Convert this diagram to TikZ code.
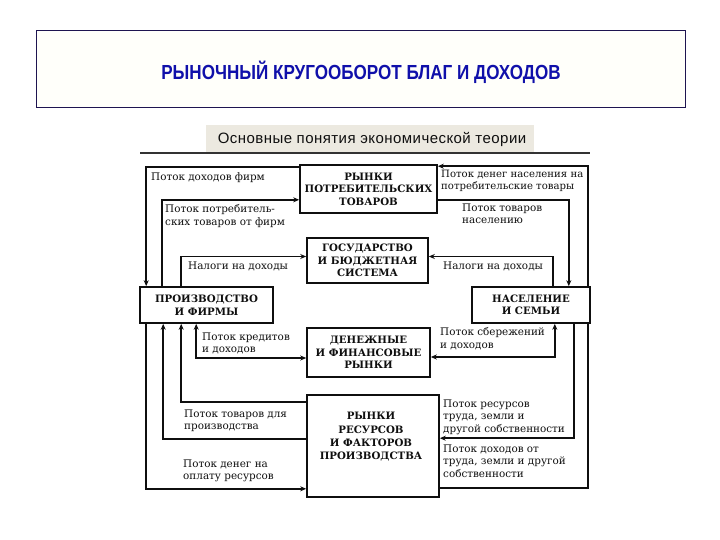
\documentclass[tikz,border=0pt]{standalone}
\usepackage{fontspec}
\usepackage{graphicx}
\setmainfont{DejaVu Serif}
\newfontfamily\titlefont{Liberation Sans}
\newfontfamily\subfont[LetterSpace=3]{Liberation Sans}
\usetikzlibrary{arrows.meta,calc}
\definecolor{titleblue}{RGB}{16,16,170}
\definecolor{frameblue}{RGB}{30,20,80}
\definecolor{subgray}{RGB}{236,233,224}
\definecolor{ink}{RGB}{15,15,15}
\begin{document}
\begin{tikzpicture}[x=1pt,y=-1pt,
  boxn/.style={draw=ink, line width=1.6pt, inner sep=0pt, align=center,
    font=\fontsize{10.2}{12.5}\selectfont\bfseries, text=ink},
  boxtxt/.style={inner sep=0pt, align=center, font=\fontsize{10.2}{13.3}\selectfont\bfseries, text=ink},
  lbl/.style={anchor=north west, align=left, inner sep=0pt,
    font=\fontsize{10.4}{12.5}\selectfont, text=ink},
  flow/.style={draw=ink, line width=1.6pt},
  arr/.style={-{Stealth[length=6pt,width=5pt]}},
  darr/.style={{Stealth[length=6pt,width=5pt]}-{Stealth[length=6pt,width=5pt]}}]
\useasboundingbox (0,0) rectangle (720,540);
\fill[white] (0,0) rectangle (720,540);
% title
\node[draw=frameblue, line width=0.8pt, fill={rgb,255:red,255;green,255;blue,250}, minimum width=649pt, minimum height=77pt, inner sep=0pt] (title) at (360.5,68.5) {};
\node[text=titleblue, inner sep=0pt] (titletext) at (361,72) {\scalebox{0.88}[1.05]{\titlefont\bfseries\fontsize{19.4}{19.4}\selectfont РЫНОЧНЫЙ КРУГООБОРОТ БЛАГ И ДОХОДОВ}};
% subtitle
\node[fill=subgray, minimum width=328pt, minimum height=27pt, inner sep=0pt] (sub) at (370,138.5) {};
\node[inner sep=0pt, text=ink] (subtext) at (372,139) {\subfont\fontsize{15}{15}\selectfont Основные понятия экономической теории};
\coordinate (ruleL) at (140,153);
\coordinate (ruleR) at (590,153);
\draw[line width=2pt, draw=ink!85] (ruleL) -- (ruleR);
% boxes
\node[boxn, minimum width=137pt, minimum height=48pt] (B1) at (368.5,189) {РЫНКИ\\ПОТРЕБИТЕЛЬСКИХ\\ТОВАРОВ};
\node[boxn, minimum width=121pt, minimum height=45pt] (B2) at (367.5,260.5) {ГОСУДАРСТВО\\И БЮДЖЕТНАЯ\\СИСТЕМА};
\node[boxn, minimum width=123pt, minimum height=49pt] (B3) at (368.5,352.5) {ДЕНЕЖНЫЕ\\И ФИНАНСОВЫЕ\\РЫНКИ};
\node[boxn, minimum width=132pt, minimum height=102pt] (B4) at (373,446) {};
\node[boxtxt] (B4t) at (371,437) {РЫНКИ\\РЕСУРСОВ\\И ФАКТОРОВ\\ПРОИЗВОДСТВА};
\node[boxn, minimum width=133pt, minimum height=36pt] (B5) at (206.5,305) {ПРОИЗВОДСТВО\\И ФИРМЫ};
\node[boxn, minimum width=118pt, minimum height=36pt] (B6) at (531,305) {НАСЕЛЕНИЕ\\И СЕМЬИ};
% left top connectors
\draw[flow, arr] ([yshift=-3pt]B1.north west) -| ([xshift=7pt]B5.north west);
\draw[flow, arr] ([xshift=23pt]B5.north west) |- ([yshift=14pt]B1.south west);
\draw[flow, arr] ([xshift=42pt]B5.north west) |- ([yshift=4pt]B2.west);
% right top connectors
\draw[flow, arr] ([xshift=-3pt]B6.north east) |- ([yshift=-2pt]B1.north east);
\draw[flow, arr] ([yshift=14pt]B1.south east) -| ([xshift=-22pt]B6.north east);
\draw[flow, arr] ([xshift=-38pt]B6.north east) |- ([yshift=4pt]B2.east);
% left bottom connectors
\draw[flow, darr] ([xshift=57pt]B5.south west) |- ([yshift=-5.5pt]B3.west);
\draw[flow, arr] ([yshift=-8pt]B4.north west) -| ([xshift=42pt]B5.south west);
\draw[flow, arr] ([yshift=-45pt]B4.north west) -| ([xshift=24pt]B5.south west);
\draw[flow, arr] ([xshift=7pt]B5.south west) |- ([yshift=9pt]B4.south west);
% right bottom connectors
\draw[flow, darr] ([xshift=-36pt]B6.south east) |- ([yshift=-4.5pt]B3.east);
\draw[flow, arr] ([xshift=-17pt]B6.south east) |- ([yshift=-44pt]B4.north east);
\draw[flow] ([xshift=-3pt]B6.south east) |- ([yshift=10pt]B4.south east);
% labels
\node[lbl] at (151,172.5) {Поток доходов фирм};
\node[lbl] at (165,204.5) {Поток потребитель-\\ских товаров от фирм};
\node[lbl] at (188,261.5) {Налоги на доходы};
\node[lbl, font=\fontsize{10.1}{12.5}\selectfont] at (441,169.5) {Поток денег населения на\\потребительские товары};
\node[lbl] at (462,203.5) {Поток товаров\\населению};
\node[lbl] at (443,261.5) {Налоги на доходы};
\node[lbl] at (202,332.5) {Поток кредитов\\и доходов};
\node[lbl] at (440,327.5) {Поток сбережений\\и доходов};
\node[lbl] at (184,409.5) {Поток товаров для\\производства};
\node[lbl] at (183,459.5) {Поток денег на\\оплату ресурсов};
\node[lbl] at (443,399.5) {Поток ресурсов\\труда, земли и\\другой собственности};
\node[lbl] at (443,444.5) {Поток доходов от\\труда, земли и другой\\собственности};
\end{tikzpicture}
\end{document}
